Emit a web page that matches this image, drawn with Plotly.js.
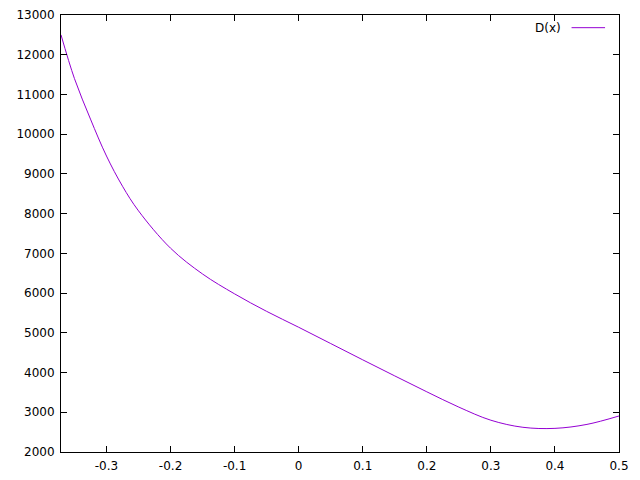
<!DOCTYPE html>
<html>
<head>
<meta charset="utf-8">
<script src="https://cdn.plot.ly/plotly-3.0.1.min.js"></script>
<style>html,body{margin:0;padding:0;background:#fff}</style>
</head>
<body>
<div id="chart" style="width:640px;height:480px"></div>
<script>
var xValues = [-0.371, -0.35, -0.325, -0.3, -0.275, -0.25, -0.2, -0.15, -0.1, -0.05, 0, 0.05, 0.1, 0.15, 0.2, 0.25, 0.3, 0.35, 0.4, 0.45, 0.5];
var dValues = [12500, 11400, 10380, 9450, 8690, 8070, 7130, 6480, 5980, 5540, 5140, 4730, 4320, 3915, 3515, 3130, 2800, 2622, 2595, 2695, 2907];
var xTickVals = [-0.3, -0.2, -0.1, 0, 0.1, 0.2, 0.3, 0.4, 0.5];
var xTickText = ["-0.3", "-0.2", "-0.1", "0", "0.1", "0.2", "0.3", "0.4", "0.5"];
var yTickVals = [2000, 3000, 4000, 5000, 6000, 7000, 8000, 9000, 10000, 11000, 12000, 13000];
var seriesName = "D(x)";

var font = {family: "DejaVu Sans, sans-serif", size: 12, color: "#000"};
var trace = {
  x: xValues, y: dValues, type: "scatter", mode: "lines", name: seriesName,
  line: {color: "#9400d3", width: 1, shape: "spline", smoothing: 1},
  showlegend: false, hoverinfo: "skip"
};
var axisCommon = {
  showline: true, linecolor: "#000", linewidth: 1, mirror: "allticks",
  ticks: "inside", ticklen: 6, tickcolor: "#000", tickwidth: 1,
  showgrid: false, zeroline: false, tickfont: font, ticklabelstandoff: 3
};
var layout = {
  width: 640, height: 480,
  margin: {l: 61, r: 21, t: 15, b: 28},
  paper_bgcolor: "#fff", plot_bgcolor: "#fff",
  font: font,
  xaxis: Object.assign({}, axisCommon, {range: [-0.371, 0.5], tickmode: "array", tickvals: xTickVals, ticktext: xTickText}),
  yaxis: Object.assign({}, axisCommon, {range: [2000, 13000], tickmode: "array", tickvals: yTickVals, ticktext: yTickVals.map(String)}),
  annotations: [{
    xref: "paper", yref: "paper", x: 0.9, y: 0.971, xanchor: "right", yanchor: "middle",
    text: seriesName, showarrow: false, font: font
  }],
  shapes: [{
    type: "line", xref: "paper", yref: "paper", x0: 0.915, x1: 0.975, y0: 0.971, y1: 0.971,
    line: {color: "#9400d3", width: 1}
  }]
};
Plotly.newPlot("chart", [trace], layout, {staticPlot: true, displayModeBar: false});
</script>
</body>
</html>
